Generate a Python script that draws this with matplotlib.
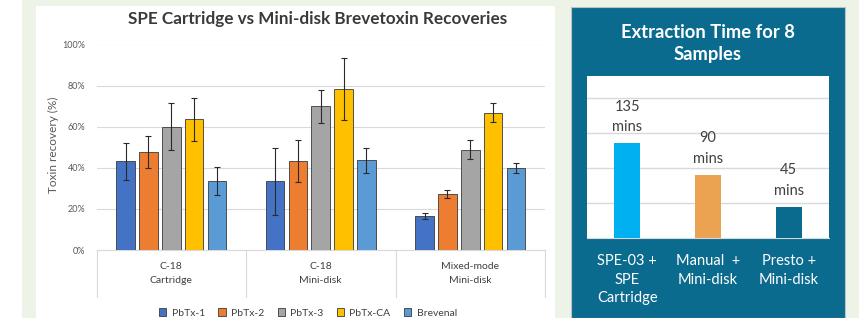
import matplotlib
matplotlib.use("Agg")
import matplotlib.pyplot as plt
from matplotlib.patches import Rectangle
import numpy as np

plt.rcParams['font.family'] = ['Lato', 'DejaVu Sans']

# ---------------- data ----------------
categories = ["C-18\nCartridge", "C-18\nMini-disk", "Mixed-mode\nMini-disk"]
series_names = ["PbTx-1", "PbTx-2", "PbTx-3", "PbTx-CA", "Brevenal"]
pbtx1 = [43.1, 33.4, 16.4]
pbtx2 = [47.5, 43.3, 27.1]
pbtx3 = [60.0, 70.0, 48.8]
pbtxca = [63.7, 78.3, 66.9]
brevenal = [33.7, 43.6, 39.7]
err_pbtx1 = [8.8, 16.3, 1.5]
err_pbtx2 = [7.8, 10.2, 2.0]
err_pbtx3 = [11.3, 8.0, 4.5]
err_pbtxca = [10.5, 15.0, 4.5]
err_brevenal = [6.7, 6.0, 2.4]
yticks_left = [0, 20, 40, 60, 80, 100]

time_methods = ["SPE-03 +\nSPE\nCartridge", "Manual  +\nMini-disk", "Presto +\nMini-disk"]
time_mins = [135, 90, 45]
time_labels = ["135\nmins", "90\nmins", "45\nmins"]

# ---------------- style ----------------
W, H = 859, 318
fig = plt.figure(figsize=(W / 100, H / 100), dpi=100)
BG = "#edf3e7"
TEAL = "#0b6b8f"
fig.patch.set_facecolor(BG)

def fx(px):
    return px / W

def fy(py):
    return 1 - py / H

# panels
fig.patches.append(Rectangle((0, 0), fx(22), 1, transform=fig.transFigure,
                             facecolor="white", edgecolor="none", zorder=-10))
fig.patches.append(Rectangle((fx(36), 0), fx(555 - 36), fy(6), transform=fig.transFigure,
                             facecolor="white", edgecolor="none", zorder=-10))
fig.patches.append(Rectangle((fx(571), 0), fx(845 - 571), fy(7), transform=fig.transFigure,
                             facecolor=TEAL, edgecolor="#b8c4c8", linewidth=0.8, zorder=-10))

# ---------------- left chart ----------------
colors = ["#4472c4", "#ed7d31", "#a5a5a5", "#ffc000", "#5b9bd5"]
values = [pbtx1, pbtx2, pbtx3, pbtxca, brevenal]
errors = [err_pbtx1, err_pbtx2, err_pbtx3, err_pbtxca, err_brevenal]

ax1 = fig.add_axes([fx(96.5), fy(250), fx(545 - 96.5), (250 - 44.5) / H])
ax1.set_facecolor("none")
x = np.arange(len(categories))
bw = 0.124
step = 0.153
for i, (name, vals, errs, c) in enumerate(zip(series_names, values, errors, colors)):
    pos = x + (i - 2) * step
    ax1.bar(pos, vals, width=bw, color=c, edgecolor="#3a3a3a", linewidth=0.6,
            label=name, zorder=3)
    ax1.errorbar(pos, vals, yerr=errs, fmt="none", ecolor="#2a2a2a",
                 elinewidth=0.8, capsize=2.2, capthick=0.8, zorder=4)

ax1.set_xlim(-0.5, 2.5)
ax1.set_ylim(0, 100)
ax1.set_yticks(yticks_left)
ax1.set_yticklabels([f"{v}%" for v in yticks_left], fontsize=6.5, color="#595959")
ax1.tick_params(axis="y", length=0, pad=8)
ax1.set_xticks([])
ax1.grid(axis="y", color="#d9d9d9", linewidth=0.8, zorder=0)
for s in ["left", "right", "top"]:
    ax1.spines[s].set_visible(False)
ax1.spines["bottom"].set_color("#d9d9d9")
ax1.spines["bottom"].set_linewidth(0.8)

# category dividers and labels
ext = (297 - 250) / (250 - 44.5) * 100
for b in np.arange(-0.5, 3.0, 1.0):
    ax1.plot([b, b], [0, -ext], color="#d9d9d9", linewidth=0.8, clip_on=False, zorder=1)
for i, lab in enumerate(categories):
    ax1.text(i, -(273.5 - 250) / (250 - 44.5) * 100, lab, ha="center", va="center",
             fontsize=7.5, color="#404040", linespacing=1.8)

fig.text(fx(317.5), fy(19), "SPE Cartridge vs Mini-disk Brevetoxin Recoveries",
         ha="center", va="center", fontsize=12.3, fontweight="bold", color="#3a3a3a")
fig.text(fx(53), fy(145), "Toxin recovery (%)", rotation=90, ha="center", va="center",
         fontsize=8.5, color="#595959")

handles, labels = ax1.get_legend_handles_labels()
fig.legend(handles, labels, loc="center", bbox_to_anchor=(fx(308), fy(313)), ncol=5,
           frameon=False, fontsize=7.5, handlelength=0.7, handleheight=0.7,
           handletextpad=0.5, columnspacing=1.3, labelcolor="#404040")

# ---------------- right chart ----------------
ax2 = fig.add_axes([fx(586.7), fy(238.3), fx(829.3 - 586.7), (238.3 - 75.7) / H])
ax2.set_facecolor("white")
bar_colors = ["#00b0f0", "#eba352", TEAL]
xr = np.arange(len(time_methods))
ax2.bar(xr, time_mins, width=0.32, color=bar_colors, zorder=3)
ax2.set_xlim(-0.5, 2.5)
ax2.set_ylim(0, 231)
ax2.set_yticks([50, 100, 150, 200])
ax2.set_yticklabels([])
ax2.tick_params(axis="y", length=0)
ax2.grid(axis="y", color="#d9d9d9", linewidth=1.0, zorder=0)
for s in ["left", "right", "top"]:
    ax2.spines[s].set_visible(False)
ax2.spines["bottom"].set_color("#d9d9d9")
ax2.set_xticks(xr)
ax2.set_xticklabels(time_methods, fontsize=10.5, color="white", linespacing=1.45)
ax2.tick_params(axis="x", length=0, pad=11)
for xi, v, lab in zip(xr, time_mins, time_labels):
    ax2.annotate(lab, (xi, v), xytext=(0, 6.5), textcoords="offset points",
                 ha="center", va="bottom", fontsize=10.5, color="#404040",
                 linespacing=1.6, zorder=5)

fig.text(fx(708), fy(43.5), "Extraction Time for 8\nSamples", ha="center", va="center",
         fontsize=13.2, fontweight="bold", color="white", linespacing=1.35)

fig.savefig("out.png", dpi=100, facecolor=fig.get_facecolor())
